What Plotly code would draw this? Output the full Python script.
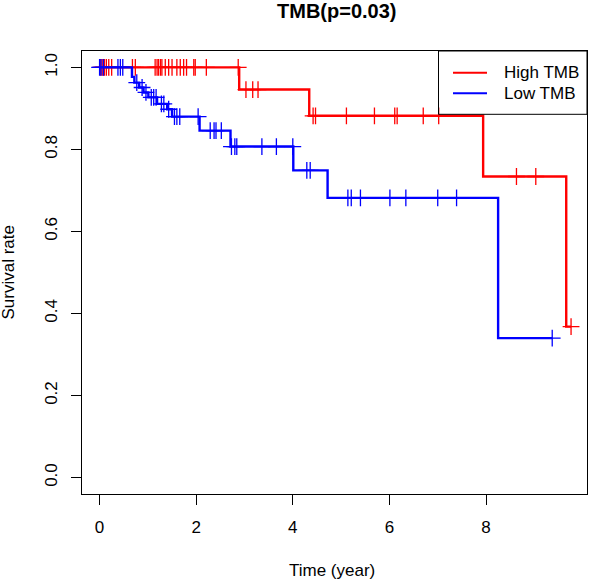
import numpy as np
import plotly.graph_objects as go

# ---------------- data ----------------
high_times = [0.0, 2.89, 4.34, 7.94, 9.66]
high_surv = [1.0, 0.946, 0.882, 0.734, 0.368]
high_end = 9.76
high_censor = [0.02, 0.05, 0.07, 0.10, 0.14, 0.19, 0.25, 0.68, 0.74,
               1.15, 1.19, 1.22, 1.26, 1.29, 1.36, 1.43, 1.50, 1.60, 1.67,
               1.74, 1.80, 1.95, 1.98, 2.21, 2.87, 3.03, 3.17, 3.28,
               4.42, 4.47, 5.11, 5.69, 6.11, 6.16, 6.70, 7.02, 8.63, 9.03, 9.76]

low_times = [0.0, 0.67, 0.72, 0.82, 0.91, 1.01, 1.19, 1.40, 1.50, 2.07,
             2.71, 4.01, 4.72, 8.25]
low_surv = [1.0, 0.977, 0.963, 0.951, 0.939, 0.927, 0.911, 0.898, 0.880,
            0.846, 0.807, 0.749, 0.682, 0.340]
low_end = 9.37
low_censor = [0.0, 0.03, 0.08, 0.38, 0.43, 0.48, 0.77, 0.88, 0.96, 1.07,
              1.12, 1.17, 1.28, 1.33, 1.43, 1.55, 1.60, 1.66, 2.04, 2.29,
              2.37, 2.41, 2.52, 2.73, 2.80, 2.84, 3.36, 3.66, 4.00, 4.29,
              4.36, 5.14, 5.21, 5.40, 6.01, 6.34, 7.00, 7.39, 9.37]

x_ticks = [0, 2, 4, 6, 8]
y_ticks = [0.0, 0.2, 0.4, 0.6, 0.8, 1.0]
group_names = ["High TMB", "Low TMB"]
group_colors = ["#FF0000", "#0000FF"]
title_text = "TMB(p=0.03)"

# ---------------- layout constants ----------------
W, H = 590, 579
ML, MR, MT, MB = 82, 3, 51, 85
PW, PH = W - ML - MR, H - MT - MB
FONT = "Liberation Sans, Arial, Helvetica, sans-serif"


def px_x(px):
    return (px - ML) / PW


def px_y(py):
    return (H - MB - py) / PH


def step_at(times, surv, t):
    idx = np.searchsorted(np.asarray(times), t, side="right") - 1
    return np.asarray(surv)[idx]


fig = go.Figure()

groups = [
    (high_times, high_surv, high_end, high_censor),
    (low_times, low_surv, low_end, low_censor),
]
for (times, surv, end, cens), name, col in zip(groups, group_names, group_colors):
    fig.add_trace(go.Scatter(
        x=list(times) + [end], y=list(surv) + [surv[-1]],
        mode="lines", line=dict(color=col, width=2.4, shape="hv"),
        name=name, showlegend=False, hoverinfo="skip"))
    fig.add_trace(go.Scatter(
        x=cens, y=step_at(times, surv, cens),
        mode="markers",
        marker=dict(symbol="cross-thin", size=12, line=dict(color=col, width=1.3)),
        name=name + " censored", showlegend=False, hoverinfo="skip"))

# manual legend (R style)
shapes = [dict(type="rect", xref="paper", yref="paper",
               x0=px_x(438.5), x1=1.0, y0=px_y(114.3), y1=1.0,
               line=dict(color="black", width=1), fillcolor="rgba(0,0,0,0)")]
annotations = []
for i, (name, col) in enumerate(zip(group_names, group_colors)):
    ypx = 72.7 + i * 20.6
    shapes.append(dict(type="line", xref="paper", yref="paper",
                       x0=px_x(453), x1=px_x(487), y0=px_y(ypx), y1=px_y(ypx),
                       line=dict(color=col, width=2)))
    annotations.append(dict(text=name, xref="paper", yref="paper",
                            x=px_x(502), y=px_y(ypx), xanchor="left", yanchor="middle",
                            showarrow=False, font=dict(size=17, color="black", family=FONT)))

annotations += [
    dict(text="<b>" + title_text + "</b>", xref="paper", yref="paper", x=px_x(336.5), y=1,
         yshift=40, xanchor="center", yanchor="middle", showarrow=False,
         font=dict(size=20, color="black", family=FONT)),
    dict(text="Time (year)", xref="paper", yref="paper", x=px_x(332), y=0,
         yshift=-76, xanchor="center", yanchor="middle", showarrow=False,
         font=dict(size=17, color="black", family=FONT)),
    dict(text="Survival rate", xref="paper", yref="paper", x=0, y=0.5,
         xshift=-(ML - 8), xanchor="center", yanchor="middle", textangle=-90,
         showarrow=False, font=dict(size=17, color="black", family=FONT)),
]

axis_common = dict(showgrid=False, zeroline=False, showline=True, mirror=True,
                   linecolor="black", linewidth=1, ticks="outside", ticklen=10,
                   tickwidth=1, tickcolor="black",
                   tickfont=dict(size=17, color="black", family=FONT))

fig.update_layout(
    width=W, height=H,
    margin=dict(l=ML, r=MR, t=MT, b=MB),
    paper_bgcolor="white", plot_bgcolor="white",
    showlegend=False,
    shapes=shapes, annotations=annotations,
    xaxis=dict(range=[-0.364, 10.09], tickvals=x_ticks,
               ticktext=[str(v) for v in x_ticks], ticklabelstandoff=8,
               **axis_common),
    yaxis=dict(range=[-0.04, 1.04], tickvals=y_ticks,
               ticktext=[f"{v:.1f}" for v in y_ticks], tickangle=-90,
               ticklabelstandoff=7, **axis_common),
)

fig.write_html("out.html", config={"displayModeBar": False},
               post_script="document.body.style.margin='0px';document.body.style.overflow='hidden';")
